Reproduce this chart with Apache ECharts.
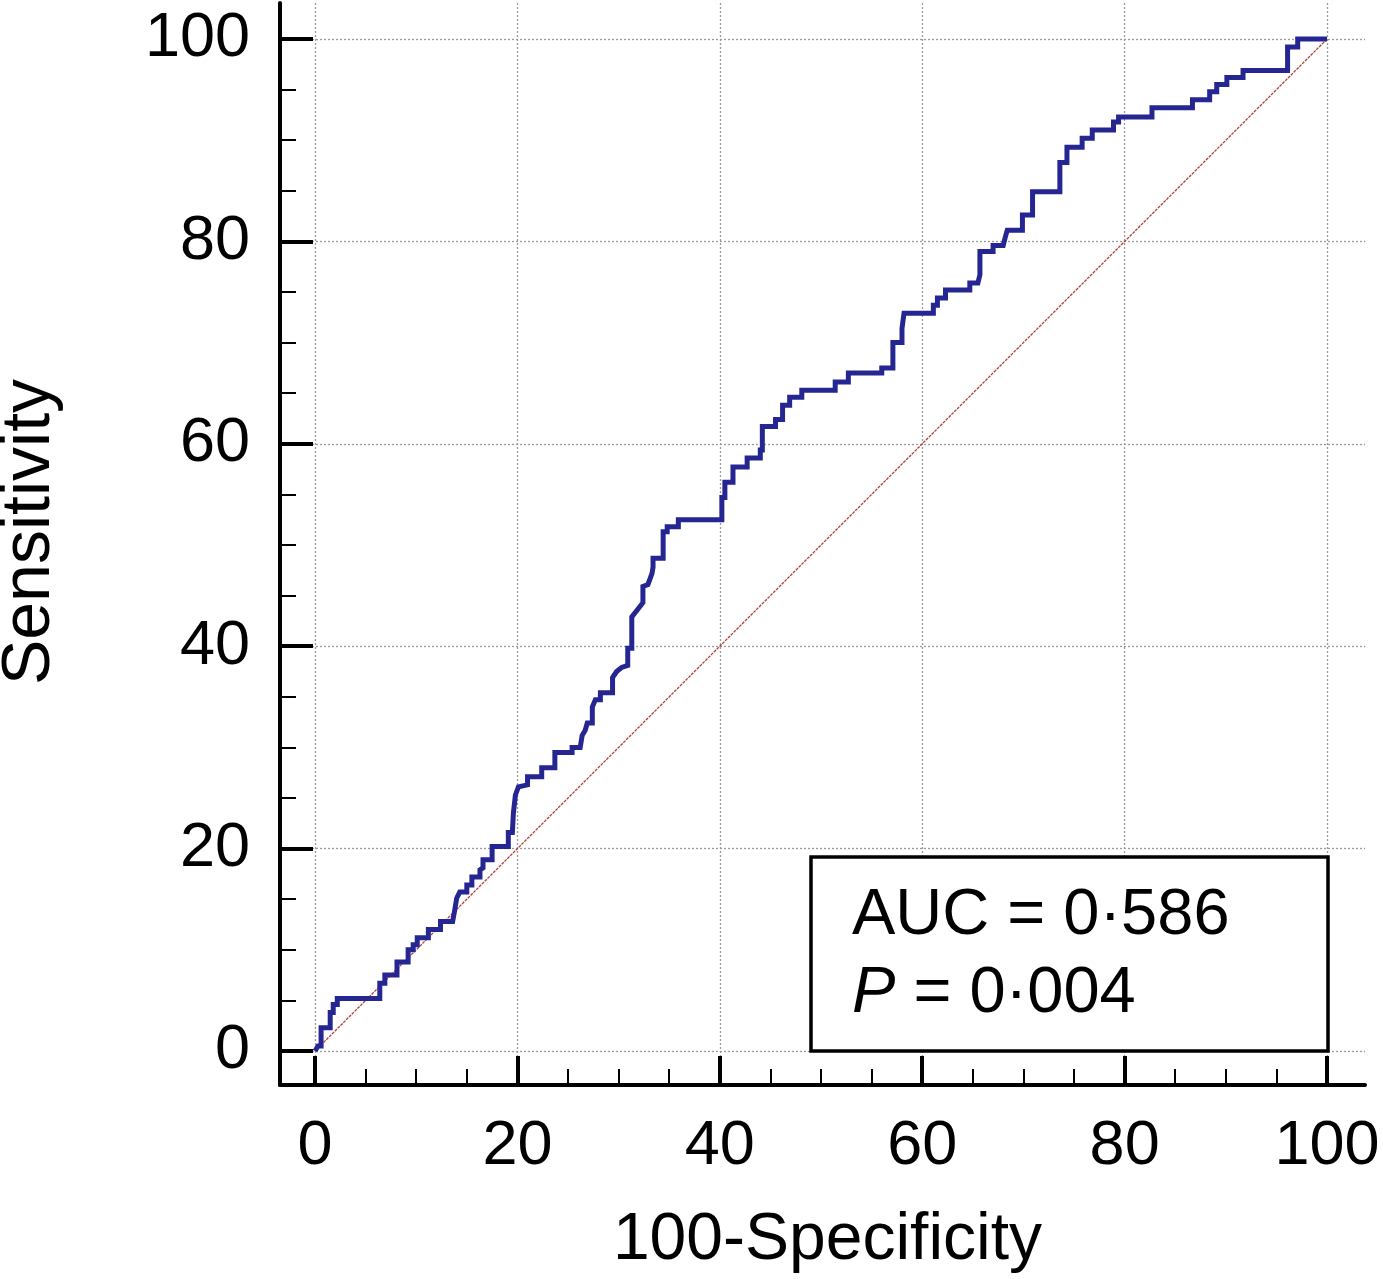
<!DOCTYPE html>
<html><head><meta charset="utf-8">
<script src="https://cdn.jsdelivr.net/npm/echarts@6/dist/echarts.min.js"></script>
<style>html,body{margin:0;padding:0;background:#fff}#c{width:1383px;height:1279px}</style>
</head><body><div id="c"></div>
<script>
// ROC curve: 100-Specificity (x) and Sensitivity (y)
const fpr = [0,0.3,0.6,0.6,1.5,1.5,1.8,1.8,2.2,2.2,6.4,6.4,6.9,6.9,8.1,8.1,9.2,9.2,9.7,9.7,10.1,10.1,11.2,11.2,12.4,12.4,13.6,13.8,14.0,14.3,15.0,15.0,15.5,15.5,16.3,16.3,16.6,16.6,17.5,17.5,19.1,19.1,19.5,19.6,19.8,20.1,21.0,21.0,22.4,22.4,23.7,23.7,25.4,25.4,26.2,26.4,26.7,26.9,27.4,27.4,27.7,28.2,28.2,29.4,29.4,29.8,30.3,30.9,30.9,31.3,31.3,32.4,32.4,32.9,33.3,33.4,33.4,34.4,34.4,34.8,34.8,35.9,35.9,40.2,40.2,40.5,40.5,41.3,41.3,42.7,42.7,44.0,44.0,44.2,44.2,45.5,45.5,46.2,46.2,46.9,46.9,48.1,48.1,51.4,51.4,52.7,52.7,56.0,56.0,57.1,57.1,58.0,58.0,58.2,61.1,61.1,61.5,61.5,62.3,62.3,64.7,64.7,65.5,65.7,65.7,67.0,67.0,68.0,68.2,68.4,69.9,69.9,70.9,70.9,73.6,73.6,74.3,74.3,75.8,75.8,76.8,76.8,78.9,78.9,79.4,79.4,82.7,82.7,86.7,86.7,88.4,88.4,89.1,89.1,90.1,90.1,91.7,91.7,96.1,96.1,97.1,97.1,100];
const sens = [0,0.5,0.5,2.3,2.3,3.8,3.8,4.6,4.6,5.2,5.2,6.7,6.7,7.5,7.5,8.8,8.8,10.0,10.0,10.5,10.5,11.2,11.2,12.0,12.0,12.8,12.8,13.9,15.1,15.7,15.7,16.4,16.4,17.2,17.2,17.9,18.1,18.9,18.9,20.2,20.2,21.6,21.6,23.5,25.3,26.1,26.3,27.1,27.1,28.0,28.0,29.5,29.5,30.0,30.0,31.2,31.7,32.4,32.4,34.0,34.7,34.7,35.4,35.4,36.9,37.5,37.9,38.1,39.8,39.8,42.9,44.3,45.9,46.1,47.2,47.8,48.7,48.7,51.3,51.3,51.8,51.8,52.5,52.5,54.7,54.7,56.2,56.2,57.7,57.7,58.6,58.6,59.4,59.4,61.7,61.7,62.4,62.4,63.8,63.8,64.6,64.6,65.3,65.3,66.1,66.1,67.0,67.0,67.5,67.5,70.0,70.0,71.4,72.9,72.9,73.7,73.7,74.4,74.4,75.2,75.2,75.9,75.9,76.7,79.0,79.0,79.6,79.6,80.4,81.1,81.1,82.6,82.6,84.9,84.9,87.8,87.8,89.3,89.3,90.2,90.2,91.0,91.0,91.8,91.8,92.3,92.3,93.2,93.2,94.0,94.0,94.8,94.8,95.5,95.5,96.2,96.2,96.9,96.9,99.2,99.2,100,100];
// reference (chance) diagonal
const diagX = [0, 100];
const diagY = [0, 100];
// axis ticks / labels
const majorTicks = [0, 20, 40, 60, 80, 100];
const minorTicks = [0,5,10,15,20,25,30,35,40,45,50,55,60,65,70,75,80,85,90,95,100];
const xTitle = '100-Specificity';
const yTitle = 'Sensitivity';
const aucLine = 'AUC = 0·586';
const pValue = '0·004';

const FONT = '"Liberation Sans", Arial, sans-serif';
const X_MIN = -3.46, X_MAX = 103.75, Y_MIN = -3.36, Y_MAX = 103.56;

const rocData = fpr.map((x, i) => [x, sens[i]]);
const diagData = diagX.map((x, i) => [x, diagY[i]]);

const chart = echarts.init(document.getElementById('c'), null, {renderer: 'canvas'});

const gridLine = {show: true, lineStyle: {color: '#9a9a9a', width: 1.3, type: [2, 2]}};

chart.setOption({
  animation: false,
  backgroundColor: '#fff',
  grid: {left: 280, right: 18, top: 3, bottom: 194, containLabel: false, outerBoundsMode: 'none'},
  xAxis: [
    {
      type: 'value', min: X_MIN, max: X_MAX, position: 'bottom',
      axisLine: {show: true, onZero: false, lineStyle: {color: '#000', width: 4}},
      axisTick: {show: true, inside: true, length: 29, lineStyle: {color: '#000', width: 4}, customValues: majorTicks},
      axisLabel: {show: true, customValues: majorTicks, margin: 30, fontSize: 63, color: '#000', fontFamily: FONT},
      splitLine: gridLine,
      name: xTitle, nameLocation: 'middle', nameGap: 123,
      nameTextStyle: {fontSize: 66, color: '#000', fontFamily: FONT, padding: [0, 0, 0, 10]}
    },
    {
      type: 'value', min: X_MIN, max: X_MAX, position: 'bottom',
      axisLine: {show: false, onZero: false},
      axisTick: {show: true, inside: true, length: 16, lineStyle: {color: '#000', width: 2}, customValues: minorTicks},
      axisLabel: {show: false},
      splitLine: {show: false}
    }
  ],
  yAxis: [
    {
      type: 'value', min: Y_MIN, max: Y_MAX, position: 'left',
      axisLine: {show: true, onZero: false, lineStyle: {color: '#000', width: 4}},
      axisTick: {show: true, inside: true, length: 33, lineStyle: {color: '#000', width: 4}, customValues: majorTicks},
      axisLabel: {show: true, customValues: majorTicks, margin: 30, fontSize: 63, color: '#000', fontFamily: FONT},
      splitLine: gridLine,
      name: yTitle, nameLocation: 'middle', nameGap: 216, nameRotate: 90,
      nameTextStyle: {fontSize: 68, color: '#000', fontFamily: FONT, padding: [0, 0, 0, 24]}
    },
    {
      type: 'value', min: Y_MIN, max: Y_MAX, position: 'left',
      axisLine: {show: false, onZero: false},
      axisTick: {show: true, inside: true, length: 16, lineStyle: {color: '#000', width: 2}, customValues: minorTicks},
      axisLabel: {show: false},
      splitLine: {show: false}
    }
  ],
  series: [
    {
      type: 'line', xAxisIndex: 0, yAxisIndex: 0, data: diagData,
      showSymbol: false, silent: true,
      lineStyle: {color: '#b04040', width: 1.3, type: [3, 1]}, z: 2
    },
    {
      type: 'line', xAxisIndex: 0, yAxisIndex: 0, data: rocData,
      showSymbol: false, silent: true,
      lineStyle: {color: '#262693', width: 5, join: 'miter'}, z: 3
    }
  ],
  graphic: [
    {
      type: 'rect', z: 10,
      shape: {x: 811, y: 857, width: 517, height: 194},
      style: {fill: '#fff', stroke: '#000', lineWidth: 3.5}
    },
    {
      type: 'text', z: 11, x: 852, y: 877,
      style: {
        text: '{a|' + aucLine + '}\n{i|P}{a| = ' + pValue + '}',
        verticalAlign: 'top', align: 'left',
        rich: {
          a: {fontSize: 65, fontFamily: FONT, color: '#000', lineHeight: 78},
          i: {fontSize: 65, fontFamily: FONT, color: '#000', fontStyle: 'italic', lineHeight: 78}
        }
      }
    }
  ]
});
</script>
</body></html>
